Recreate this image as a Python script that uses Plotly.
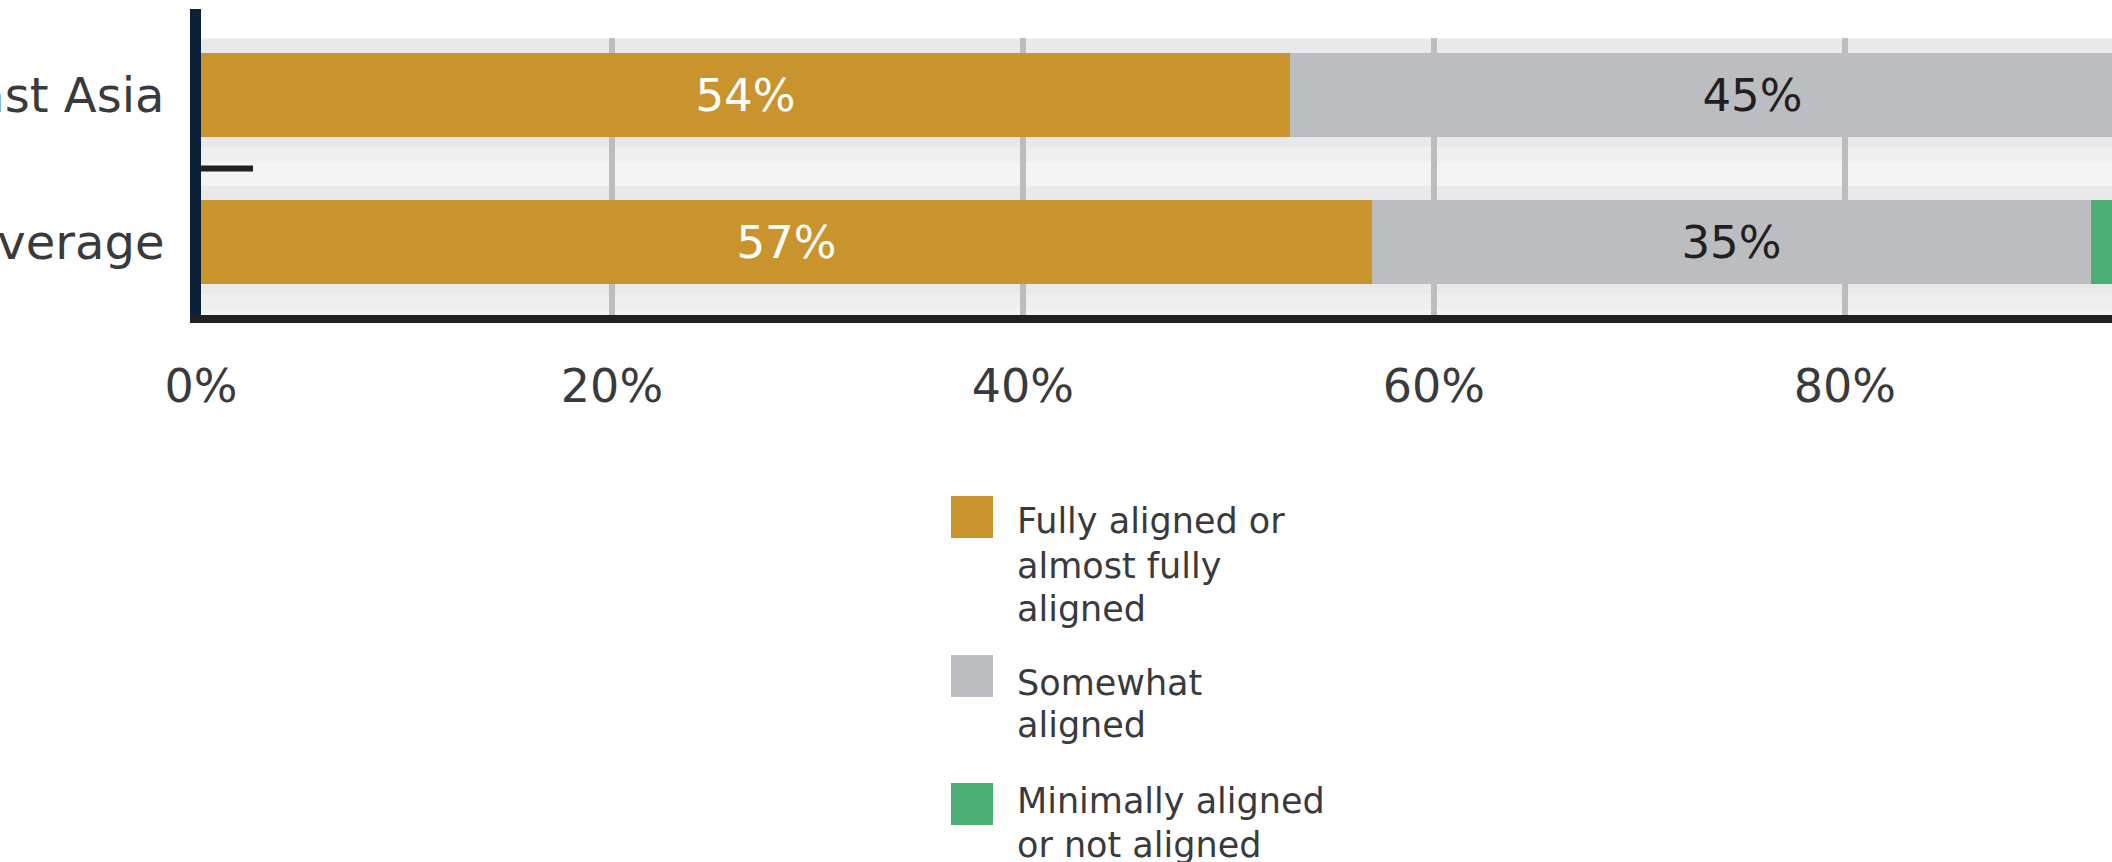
import plotly.graph_objects as go

# ---------------- data ----------------
categories = ["East Asia", "Average"]
series_names = [
    "Fully aligned or<br>almost fully<br>aligned",
    "Somewhat<br>aligned",
    "Minimally aligned<br>or not aligned",
]
fully = [53, 57]
somewhat = [45, 35]
minimal = [2, 8]
fully_labels = ["54%", "57%"]
somewhat_labels = ["45%", "35%"]
x_tickvals = [0, 20, 40, 60, 80, 100]
x_ticktext = ["0%", "20%", "40%", "60%", "80%", "100%"]

# ---------------- style ----------------
COLORS = ["#C9942E", "#BCBDC0", "#4BAE72"]
TEXT_COLORS = ["#FFFFFF", "#231F20", "#FFFFFF"]
FONT = "DejaVu Sans"
TXT = "#3A3A3C"

W, H = 2112, 862
L, R, T, B = 201, 0, 38, 547
plot_w = W - L - R
plot_h = H - T - B
y_order = ["Average", "East Asia"]   # bottom -> top
y_range = [-0.497, 1.388]
x_range = [0, 93.0]
bar_w = 0.578
YLINE_W = 11


def px_x(px):
    return (px - L) / plot_w


def px_y(py):
    return (H - B - py) / plot_h


fig = go.Figure()
values = [fully, somewhat, minimal]
labels = [fully_labels, somewhat_labels, None]
for name, vals, labs, col, tcol in zip(series_names, values, labels, COLORS, TEXT_COLORS):
    fig.add_trace(go.Bar(
        y=categories, x=vals, orientation="h", name=name,
        marker=dict(color=col, line=dict(width=0)),
        width=bar_w,
        text=labs, textposition="inside" if labs else "none",
        insidetextanchor="middle",
        textangle=0, constraintext="none",
        insidetextfont=dict(family=FONT, size=45, color=tcol),
        showlegend=False, hoverinfo="skip",
    ))

shapes = []
# row shadows (background decoration)
for cat in categories:
    c = y_order.index(cat)
    shapes.append(dict(type="rect", xref="paper", yref="y", x0=0, x1=1,
                       y0=c - bar_w / 2 - 0.068, y1=c + bar_w / 2 + 0.09,
                       fillcolor="#E9E9EA", line=dict(width=0), layer="below"))
    shapes.append(dict(type="rect", xref="paper", yref="y", x0=0, x1=1,
                       y0=c - bar_w / 2 - 0.17, y1=c - bar_w / 2 - 0.068,
                       fillcolor="#EFEFF0", line=dict(width=0), layer="below"))
# left axis extension above the plot
shapes.append(dict(type="line", xref="paper", yref="paper",
                   x0=px_x(L - YLINE_W / 2), x1=px_x(L - YLINE_W / 2),
                   y0=1, y1=px_y(9), line=dict(color="#0C203A", width=YLINE_W)))
# small divider tick between the rows
shapes.append(dict(type="line", xref="paper", yref="y", x0=px_x(L - 2), x1=px_x(253),
                   y0=0.5, y1=0.5, line=dict(color="#231F20", width=6)))

# manual legend (large square swatches)
sw_top = [496, 655, 783]
line_centers = [[521, 566, 609], [683, 725], [801, 845]]
annotations = []
for name, col, top, centers in zip(series_names, COLORS, sw_top, line_centers):
    shapes.append(dict(type="rect", xref="paper", yref="paper",
                       x0=px_x(951), x1=px_x(993), y0=px_y(top), y1=px_y(top + 42),
                       fillcolor=col, line=dict(width=0)))
    for line_text, cy in zip(name.split("<br>"), centers):
        annotations.append(dict(xref="paper", yref="paper", x=px_x(1015), y=px_y(cy),
                                xanchor="left", yanchor="middle", showarrow=False,
                                text=line_text,
                                font=dict(family=FONT, size=35, color=TXT)))

fig.update_layout(
    width=W, height=H,
    margin=dict(l=L, r=R, t=T, b=B, pad=0, autoexpand=False),
    paper_bgcolor="#FFFFFF",
    plot_bgcolor="#F4F4F5",
    barmode="stack",
    bargap=0,
    showlegend=False,
    shapes=shapes,
    annotations=annotations,
    font=dict(family=FONT, color=TXT),
    xaxis=dict(
        range=x_range, tickvals=x_tickvals, ticktext=x_ticktext,
        showgrid=True, gridcolor="#BCBDC0", gridwidth=6,
        zeroline=False,
        showline=True, linecolor="#231F20", linewidth=8,
        ticks="", ticklabelstandoff=24, automargin=False,
        tickfont=dict(family=FONT, size=46, color=TXT),
        fixedrange=True,
    ),
    yaxis=dict(
        type="category", categoryorder="array", categoryarray=y_order,
        range=y_range,
        showgrid=False, zeroline=False,
        showline=True, linecolor="#0C203A", linewidth=YLINE_W,
        ticks="", ticklabelstandoff=16, automargin=False,
        tickfont=dict(family=FONT, size=48, color=TXT),
        fixedrange=True,
    ),
)

fig.write_html(
    "out.html",
    config={"displayModeBar": False},
    post_script="document.body.style.margin='0px';document.body.style.overflow='hidden';",
)
